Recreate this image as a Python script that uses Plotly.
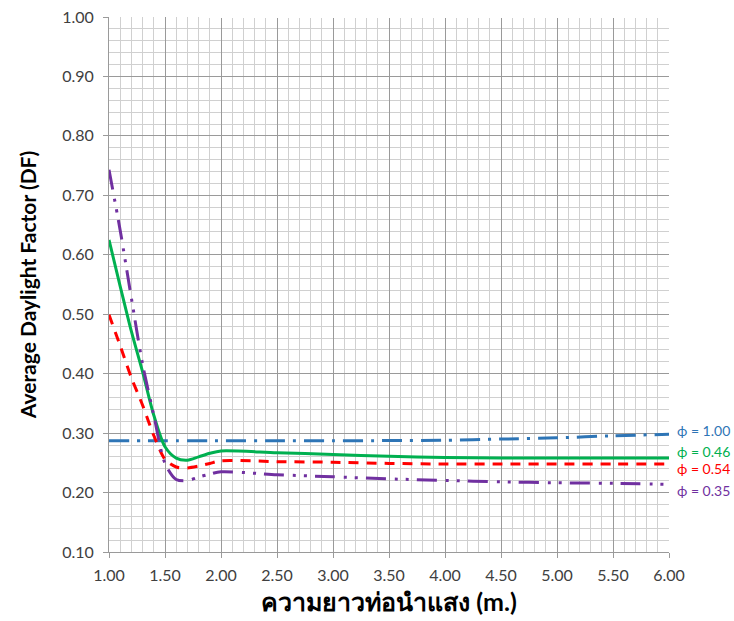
import plotly.graph_objects as go

# ---- data ----
length_m = [1.0, 1.1, 1.2, 1.3, 1.4, 1.5, 1.6, 1.7, 1.8, 1.9, 2.0,
            2.5, 3.0, 3.5, 4.0, 4.5, 5.0, 5.5, 6.0]
df_100 = [0.287, 0.287, 0.287, 0.287, 0.287, 0.287, 0.287, 0.287, 0.287, 0.287, 0.287,
          0.287, 0.287, 0.2875, 0.288, 0.290, 0.292, 0.2955, 0.298]
df_046 = [0.625, 0.547, 0.471, 0.403, 0.330, 0.277, 0.258, 0.2545, 0.260, 0.266, 0.270,
          0.267, 0.264, 0.261, 0.259, 0.258, 0.258, 0.258, 0.258]
df_054 = [0.499, 0.447, 0.393, 0.347, 0.296, 0.256, 0.243, 0.2415, 0.2445, 0.249, 0.2535,
          0.252, 0.251, 0.249, 0.248, 0.248, 0.248, 0.248, 0.248]
df_035 = [0.743, 0.641, 0.527, 0.416, 0.330, 0.249, 0.222, 0.220, 0.226, 0.231, 0.235,
          0.230, 0.2265, 0.223, 0.2205, 0.218, 0.2165, 0.2155, 0.2137]
series_labels = ["ϕ = 1.00", "ϕ = 0.46", "ϕ = 0.54", "ϕ = 0.35"]
label_y = [0.305, 0.2685, 0.2405, 0.204]
x_ticks = [1.0, 1.5, 2.0, 2.5, 3.0, 3.5, 4.0, 4.5, 5.0, 5.5, 6.0]
y_ticks = [0.1, 0.2, 0.3, 0.4, 0.5, 0.6, 0.7, 0.8, 0.9, 1.0]

colors = ["#2E75B6", "#00B050", "#FF0000", "#7030A0"]
dashes = ["20px,8px,3px,8px", "solid", "10px,8px", "20px,9px,3px,8px,3px,8px"]
series = [df_100, df_046, df_054, df_035]

FONT = "Lato, 'Open Sans', sans-serif"

fig = go.Figure()
for vals, c, d, name in zip(series, colors, dashes, series_labels):
    fig.add_trace(go.Scatter(
        x=length_m, y=vals, mode="lines", name=name,
        line=dict(color=c, width=3, dash=d, shape="spline", smoothing=0.8),
        showlegend=False,
    ))

for name, yv, c in zip(series_labels, label_y, colors):
    fig.add_annotation(
        x=1.01, xref="paper", y=yv, yref="y", text=name, showarrow=False,
        xanchor="left", yanchor="middle", font=dict(family=FONT, size=14, color=c),
    )

# top gridline is only partly visible in the reference
fig.add_shape(type="line", xref="x", yref="y", x0=1.875, x1=6.02, y0=1.0, y1=1.0,
              line=dict(color="white", width=2), layer="above")

fig.update_xaxes(
    range=[1.0, 6.0], tickvals=x_ticks, ticktext=[f"{v:.2f}" for v in x_ticks],
    showgrid=True, gridcolor="#9a9a9a", gridwidth=1,
    minor=dict(dtick=0.1, tick0=1.0, showgrid=True, gridcolor="#d0d0d0", gridwidth=1),
    showline=True, linecolor="#9a9a9a", linewidth=1,
    ticks="outside", ticklen=5, tickcolor="#9a9a9a",
    ticklabelstandoff=4,
    tickfont=dict(family=FONT, size=16, color="#404040"),
    title=dict(text="<b>ความยาวท่อนำแสง (m.)</b>", font=dict(family=FONT, size=25, color="#000000"),
               standoff=10),
    zeroline=False, automargin=False,
)
fig.update_yaxes(
    range=[0.1, 1.0], tickvals=y_ticks, ticktext=[f"{v:.2f}" for v in y_ticks],
    showgrid=True, gridcolor="#9a9a9a", gridwidth=1,
    minor=dict(dtick=0.02, tick0=0.1, showgrid=True, gridcolor="#d0d0d0", gridwidth=1),
    showline=True, linecolor="#9a9a9a", linewidth=1,
    ticks="outside", ticklen=5, tickcolor="#9a9a9a",
    ticklabelstandoff=6,
    tickfont=dict(family=FONT, size=16, color="#404040"),
    title=dict(text="<b>Average Daylight Factor (DF)</b>", font=dict(family=FONT, size=21, color="#000000"),
               standoff=19),
    zeroline=False, automargin=False,
)

fig.update_layout(
    width=734, height=621,
    margin=dict(l=109, r=65, t=17, b=69),
    plot_bgcolor="white", paper_bgcolor="white",
)

fig.write_html("out.html")
